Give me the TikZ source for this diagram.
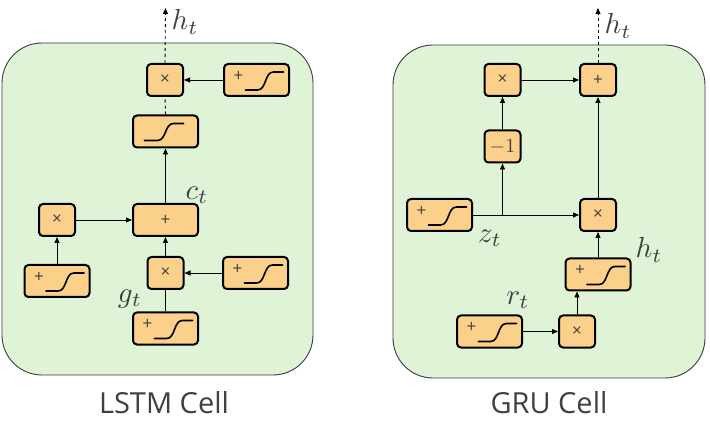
\documentclass[tikz,border=0pt]{standalone}
\usepackage{fontspec}
\newfontfamily\osans{Open Sans}
\usetikzlibrary{arrows.meta}
\definecolor{gatefill}{RGB}{251,208,138}
\definecolor{cellfill}{RGB}{223,244,214}
\definecolor{cellline}{RGB}{60,60,60}
\definecolor{txtgray}{RGB}{64,64,64}
\newcommand{\plussig}[1]{%
  \node[opmark] (#1p) at ([shift={(-18,-4)}]#1.center) {+};
  \draw[curve,shift={(#1.center)}] (-11,10) -- (1,10) .. controls (10,10) and (8,-8) .. (17,-8) -- (27,-8);}
\newcommand{\plainsig}[1]{%
  \draw[curve,shift={(#1.center)}] (-21,9) -- (-8,9) .. controls (1,9) and (-1,-8) .. (8,-8) -- (18,-8);}
\begin{document}
\begin{tikzpicture}[x=1pt,y=-1pt,
  gate/.style={draw=black,line width=2pt,fill=gatefill,rounded corners=4pt,inner sep=0pt,
    minimum height=32pt,minimum width=36pt,font=\osans\fontsize{17}{17}\selectfont,text=txtgray},
  wgate/.style={gate,minimum width=65pt},
  opmark/.style={font=\osans\fontsize{17}{17}\selectfont,text=txtgray,inner sep=0pt},
  curve/.style={line width=1.6pt,black,line cap=round},
  conn/.style={line width=0.9pt},
  arr/.style={conn,-{Triangle[length=6pt,width=5pt]}},
  lab/.style={text=txtgray,inner sep=0pt,scale=2.9},
  cell/.style={draw=cellline,line width=0.9pt,fill=cellfill,rounded corners=40pt},
  title/.style={font=\osans\fontsize{29}{30}\selectfont,text=txtgray,anchor=base}
]
\useasboundingbox (0,0) rectangle (710,422);
\fill[white] (0,0) rectangle (710,422);

% ---------- LSTM ----------
\draw[cell] (2,43) rectangle (313,375);
\node[gate] (Lmt) at (165,80) {×};
\node[wgate] (Lst) at (256.5,80) {}; \plussig{Lst}
\node[wgate] (Ltanh) at (165.5,131.5) {}; \plainsig{Ltanh}
\node[wgate] (Lplus) at (165.5,220) {+};
\node[gate] (Lml) at (57,220) {×};
\node[wgate] (Lsl) at (57,281) {}; \plussig{Lsl}
\node[gate] (Lmm) at (165.5,273) {×};
\node[wgate] (Lsr) at (255.5,273) {}; \plussig{Lsr}
\node[wgate] (Lsb) at (165.5,328.5) {}; \plussig{Lsb}
\coordinate (Lout) at (165.5,8);

\draw[arr,dashed] (Lmt.north) -- (Lout);
\draw[conn,dashed] (Ltanh.north) -- (Lmt.south);
\draw[arr] (Lst.west) -- (Lmt.east);
\draw[arr] (Lplus.north) -- (Ltanh.south);
\draw[arr] (Lml.east) -- (Lplus.west);
\draw[arr] (Lsl.north) -- (Lml.south);
\draw[arr] (Lmm.north) -- (Lplus.south);
\draw[arr] (Lsr.west) -- (Lmm.east);
\draw[conn] (Lsb.north) -- (Lmm.south);

\node[lab] (Lht) at (185,22) {$h_t$};
\node[lab] (Lct) at (197,195) {$c_t$};
\node[lab] (Lgt) at (130,299) {$g_t$};
\node[title] (Ltitle) at (164,413) {LSTM Cell};

% ---------- GRU ----------
\draw[cell] (393,45) rectangle (705,378);
\node[gate] (Gmt) at (502.5,80) {×};
\node[gate] (Gpt) at (598,80) {+};
\node[gate] (Gneg) at (502.5,146.5) {};
\node[text=txtgray,inner sep=0pt,scale=2] (Gnegt) at (Gneg.center) {$-1$};
\node[wgate] (Gsz) at (439.5,215) {}; \plussig{Gsz}
\node[gate] (Gmm) at (598,215) {×};
\node[wgate] (Gsh) at (598,274.5) {}; \plussig{Gsh}
\node[wgate] (Gsr) at (489.5,331.5) {}; \plussig{Gsr}
\node[gate] (Gmb) at (577,331.5) {×};
\coordinate (Gout) at (598,8);
\coordinate (GJ) at (Gneg.center |- Gsz.east);

\draw[arr] (Gmt.east) -- (Gpt.west);
\draw[arr] (Gneg.north) -- (Gmt.south);
\draw[arr] (Gsz.east) -- (Gmm.west);
\draw[arr] (GJ) -- (Gneg.south);
\draw[arr] (Gmm.north) -- (Gpt.south);
\draw[arr] (Gsh.north) -- (Gmm.south);
\draw[arr] (Gsr.east) -- (Gmb.west);
\draw[arr] (Gmb.north) -- (Gmb.north |- Gsh.south);
\draw[arr,dashed] (Gpt.north) -- (Gout);

\node[lab] (Ght) at (618,26) {$h_t$};
\node[lab] (Gzt) at (490,238) {$z_t$};
\node[lab] (Ghm) at (649,250) {$h_t$};
\node[lab] (Grt) at (518,300) {$r_t$};
\node[title] (Gtitle) at (549,413) {GRU Cell};
\end{tikzpicture}
\end{document}
